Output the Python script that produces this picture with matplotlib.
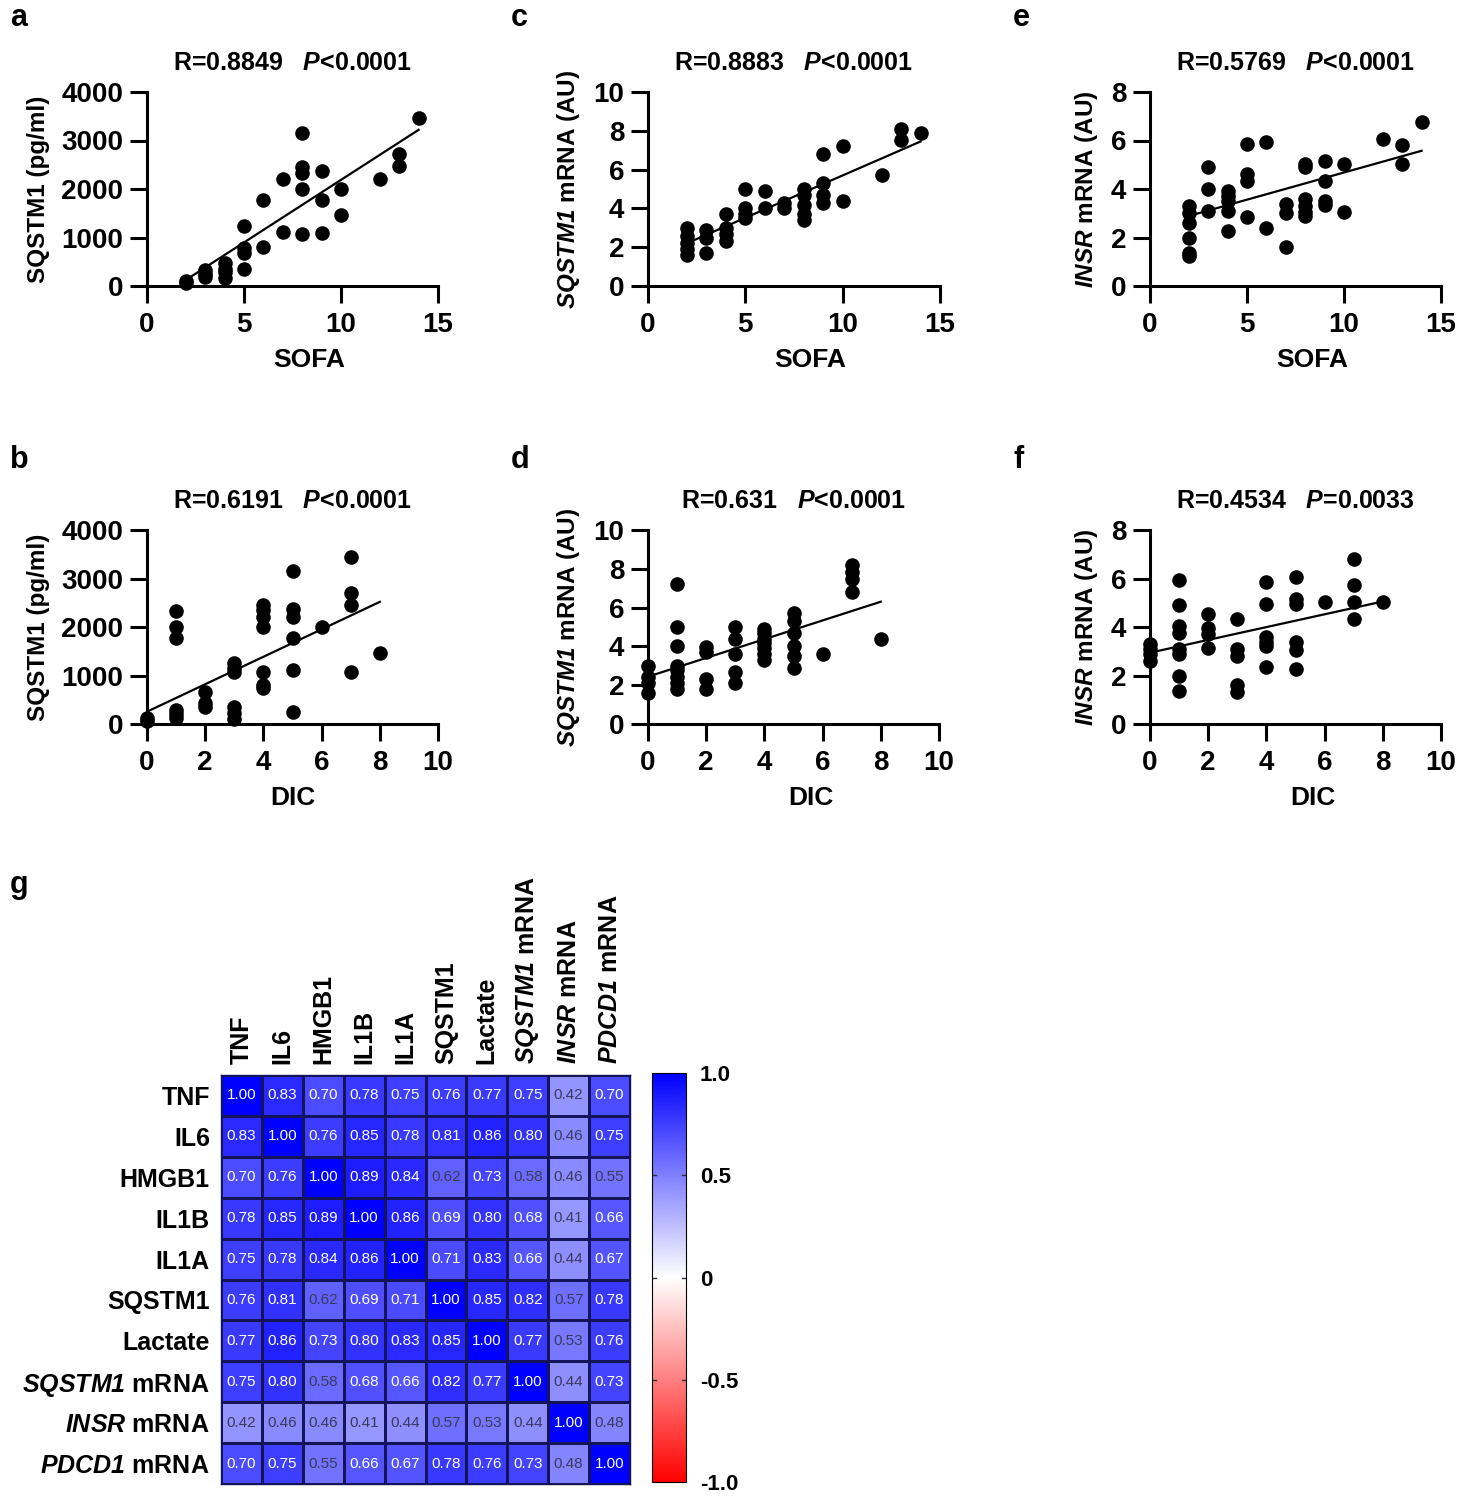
import numpy as np
import matplotlib
matplotlib.use("Agg")
import matplotlib.pyplot as plt
from matplotlib.colors import LinearSegmentedColormap

plt.rcParams["font.family"] = ["Liberation Sans", "DejaVu Sans"]
plt.rcParams["font.weight"] = "bold"
plt.rcParams["mathtext.fontset"] = "custom"
plt.rcParams["mathtext.rm"] = "Liberation Sans:bold"
plt.rcParams["mathtext.it"] = "Liberation Sans:italic:bold"
plt.rcParams["mathtext.bf"] = "Liberation Sans:italic:bold"

# ---- scatter data ----
a_x = [2, 2, 3, 3, 3, 4, 4, 4, 4, 5, 5, 5, 5, 6, 6, 7, 7, 8, 8, 8, 8, 8,
       9, 9, 9, 10, 10, 12, 13, 13, 14]
a_y = [100, 60, 330, 250, 190, 470, 360, 280, 160, 1240, 780, 680, 350,
       1770, 800, 2200, 1110, 3150, 2450, 2330, 2000, 1070, 2370, 1770, 1090,
       2000, 1460, 2200, 2720, 2470, 3460]

c_x = [2, 2, 2, 2, 2, 3, 3, 3, 4, 4, 4, 4, 5, 5, 5, 5, 6, 6, 7, 7,
       8, 8, 8, 8, 8, 9, 9, 9, 9, 10, 10, 12, 13, 13, 14]
c_y = [3.0, 2.6, 2.2, 1.9, 1.6, 2.9, 2.5, 1.7, 3.7, 3.0, 2.7, 2.3,
       5.0, 4.0, 3.7, 3.5, 4.9, 4.0, 4.3, 4.0, 5.0, 4.7, 4.2, 3.7, 3.4,
       6.8, 5.3, 4.7, 4.3, 7.2, 4.4, 5.7, 8.1, 7.5, 7.9]

e_x = [2, 2, 2, 2, 2, 2, 3, 3, 3, 4, 4, 4, 4, 4, 5, 5, 5, 5, 6, 6, 7, 7, 7,
       8, 8, 8, 8, 8, 8, 9, 9, 9, 9, 10, 10, 12, 13, 13, 14]
e_y = [3.3, 3.0, 2.6, 2.0, 1.35, 1.25, 4.9, 4.0, 3.1, 3.9, 3.7, 3.5, 3.1, 2.25,
       5.85, 4.6, 4.35, 2.85, 5.95, 2.4, 3.4, 3.0, 1.6,
       5.05, 4.9, 3.6, 3.3, 3.05, 2.9, 5.15, 4.35, 3.5, 3.35,
       5.05, 3.05, 6.05, 5.8, 5.05, 6.75]

b_x = [0, 0, 1, 1, 1, 1, 1, 1, 2, 2, 2, 3, 3, 3, 3, 3, 3, 4, 4, 4, 4, 4, 4, 4,
       5, 5, 5, 5, 5, 5, 6, 7, 7, 7, 7, 8]
b_y = [120, 60, 2330, 2000, 1770, 290, 200, 120, 650, 440, 350,
       1250, 1150, 1080, 360, 230, 110, 2450, 2350, 2200, 2000, 1070, 810, 740,
       3150, 2380, 2210, 1770, 1110, 240, 2000, 3450, 2700, 2460, 1080, 1460]

d_x = [0, 0, 0, 0, 1, 1, 1, 1, 1, 1, 1, 1, 2, 2, 2, 2, 3, 3, 3, 3, 3,
       4, 4, 4, 4, 4, 4, 4, 5, 5, 5, 5, 5, 5, 6, 7, 7, 7, 7, 8]
d_y = [3.0, 2.4, 2.1, 1.6, 7.2, 5.0, 4.0, 3.0, 2.8, 2.4, 2.1, 1.8,
       3.95, 3.7, 2.3, 1.8, 5.0, 4.4, 3.6, 2.7, 2.1,
       4.9, 4.7, 4.4, 4.2, 3.9, 3.6, 3.3, 5.7, 5.3, 4.7, 4.0, 3.5, 2.9,
       3.6, 8.2, 7.85, 7.5, 6.8, 4.4]

f_x = [0, 0, 0, 0, 1, 1, 1, 1, 1, 1, 1, 1, 2, 2, 2, 2, 3, 3, 3, 3, 3,
       4, 4, 4, 4, 4, 4, 5, 5, 5, 5, 5, 5, 6, 7, 7, 7, 7, 8]
f_y = [3.3, 3.1, 2.9, 2.6, 5.95, 4.9, 4.05, 3.75, 3.1, 2.9, 2.0, 1.35,
       4.55, 3.95, 3.7, 3.15, 4.35, 3.1, 2.8, 1.6, 1.3,
       5.85, 4.95, 3.6, 3.4, 3.2, 2.35, 6.05, 5.15, 4.95, 3.4, 3.05, 2.25,
       5.05, 6.8, 5.75, 5.05, 4.35, 5.05]

# regression lines (slope, intercept)
fits = {
    "a": (258, -392), "c": (0.437, 1.33), "e": (0.224, 2.44),
    "b": (283, 254), "d": (0.483, 2.44), "f": (0.264, 2.94),
}

stats = {
    "a": ("0.8849", "<0.0001"), "c": ("0.8883", "<0.0001"), "e": ("0.5769", "<0.0001"),
    "b": ("0.6191", "<0.0001"), "d": ("0.631", "<0.0001"), "f": ("0.4534", "=0.0033"),
}

# ---- correlation matrix ----
labels = ["TNF", "IL6", "HMGB1", "IL1B", "IL1A", "SQSTM1", "Lactate",
          r"$\mathbf{SQSTM1}$ mRNA", r"$\mathbf{INSR}$ mRNA", r"$\mathbf{PDCD1}$ mRNA"]
corr = [
    [1.00, 0.83, 0.70, 0.78, 0.75, 0.76, 0.77, 0.75, 0.42, 0.70],
    [0.83, 1.00, 0.76, 0.85, 0.78, 0.81, 0.86, 0.80, 0.46, 0.75],
    [0.70, 0.76, 1.00, 0.89, 0.84, 0.62, 0.73, 0.58, 0.46, 0.55],
    [0.78, 0.85, 0.89, 1.00, 0.86, 0.69, 0.80, 0.68, 0.41, 0.66],
    [0.75, 0.78, 0.84, 0.86, 1.00, 0.71, 0.83, 0.66, 0.44, 0.67],
    [0.76, 0.81, 0.62, 0.69, 0.71, 1.00, 0.85, 0.82, 0.57, 0.78],
    [0.77, 0.86, 0.73, 0.80, 0.83, 0.85, 1.00, 0.77, 0.53, 0.76],
    [0.75, 0.80, 0.58, 0.68, 0.66, 0.82, 0.77, 1.00, 0.44, 0.73],
    [0.42, 0.46, 0.46, 0.41, 0.44, 0.57, 0.53, 0.44, 1.00, 0.48],
    [0.70, 0.75, 0.55, 0.66, 0.67, 0.78, 0.76, 0.73, 0.48, 1.00],
]

W, H = 1459, 1500
fig = plt.figure(figsize=(W / 100, H / 100), dpi=100)


def px_axes(x0, y0, x1, y1):
    return fig.add_axes([x0 / W, 1 - y1 / H, (x1 - x0) / W, (y1 - y0) / H])


sofa_lbl = "SOFA"
dic_lbl = "DIC"
ylab_sq = "SQSTM1 (pg/ml)"
ylab_sqm = r"$\mathbf{SQSTM1}$ mRNA (AU)"
ylab_in = r"$\mathbf{INSR}$ mRNA (AU)"

panels = [
    ("a", a_x, a_y, (147, 92, 438, 286), 15, 5, 4000, 1000, sofa_lbl, ylab_sq, 0.557),
    ("c", c_x, c_y, (648, 92, 940, 286), 15, 5, 10, 2, sofa_lbl, ylab_sqm, 0.557),
    ("e", e_x, e_y, (1150, 92, 1441, 286), 15, 5, 8, 2, sofa_lbl, ylab_in, 0.557),
    ("b", b_x, b_y, (147, 530, 438, 724), 10, 2, 4000, 1000, dic_lbl, ylab_sq, 0.5),
    ("d", d_x, d_y, (648, 530, 939, 724), 10, 2, 10, 2, dic_lbl, ylab_sqm, 0.56),
    ("f", f_x, f_y, (1150, 530, 1441, 724), 10, 2, 8, 2, dic_lbl, ylab_in, 0.56),
]

for key, xs, ys, box, xmax, xstep, ymax, ystep, xl, yl, xlx in panels:
    ax = px_axes(*box)
    ax.scatter(xs, ys, s=110, color="black", zorder=5, clip_on=False, linewidths=0)
    k, b0 = fits[key]
    xx = np.array([min(xs), max(xs)])
    ax.plot(xx, k * xx + b0, color="black", lw=1.6, zorder=4)
    ax.set_xlim(0, xmax)
    ax.set_ylim(0, ymax)
    ax.set_xticks(np.arange(0, xmax + 0.1, xstep))
    ax.set_yticks(np.arange(0, ymax + 0.1, ystep))
    for s in ["top", "right"]:
        ax.spines[s].set_visible(False)
    for s in ["left", "bottom"]:
        ax.spines[s].set_linewidth(2.2)
    ax.tick_params(direction="out", length=12, width=2.2, labelsize=20)
    ax.tick_params(axis="x", pad=7)
    ax.tick_params(axis="y", pad=5)
    ax.set_xlabel(xl, fontsize=19, fontweight="bold")
    ax.xaxis.set_label_coords(xlx, -0.32)
    ax.set_ylabel(yl, fontsize=17.5, fontweight="bold", labelpad=8)
    r, p = stats[key]
    ax.set_title(f"R={r}   $P${p}", fontsize=18, fontweight="bold", pad=16)
    fig.text((box[0] - 137) / W, 1 - 18 / H if box[1] < 300 else 1 - 460 / H, key,
             fontsize=22, fontweight="bold", va="center", ha="left")

# ---- heatmap ----
cmap = LinearSegmentedColormap.from_list("rwb", ["#ff0000", "#ffffff", "#0000ff"])
hm = px_axes(221, 1075, 630, 1484)
mat = np.array(corr)
n = len(labels)
mesh = hm.pcolormesh(np.arange(n + 1), np.arange(n + 1), mat, cmap=cmap, vmin=-1, vmax=1,
                     edgecolors="#14145a", linewidth=1.0)
hm.set_xlim(0, n)
hm.set_ylim(n, 0)
for i in range(n):
    for j in range(n):
        v = mat[i, j]
        hm.text(j + 0.5, i + 0.5, f"{v:.2f}", ha="center", va="center", fontsize=11,
                fontweight="normal", color="white" if v > 0.64 else "#3a3a5c")
hm.set_xticks(np.arange(n) + 0.5)
hm.set_yticks(np.arange(n) + 0.5)
hm.set_xticklabels(labels, rotation=90, fontsize=18, fontweight="bold")
hm.set_yticklabels(labels, fontsize=18, fontweight="bold")
hm.xaxis.tick_top()
hm.tick_params(length=0, pad=8)
for s in hm.spines.values():
    s.set_linewidth(1.0)
    s.set_color("#14145a")
fig.text(10 / W, 1 - 885 / H, "g", fontsize=22, fontweight="bold", va="center")

cax = px_axes(652, 1073, 686, 1482)
cb = fig.colorbar(mesh, cax=cax, ticks=[1.0, 0.5, 0, -0.5, -1.0])
cb.ax.set_yticklabels(["1.0", "0.5", "0", "-0.5", "-1.0"])
cb.ax.tick_params(labelsize=16, length=0, pad=10)
cb.outline.set_linewidth(0.8)
for t in [0.5, 0, -0.5]:
    cb.ax.plot([0, 0.12], [t, t], color="#333333", lw=1, transform=cb.ax.get_yaxis_transform())
    cb.ax.plot([0.88, 1.0], [t, t], color="#333333", lw=1, transform=cb.ax.get_yaxis_transform())

fig.savefig("out.png", dpi=100)
